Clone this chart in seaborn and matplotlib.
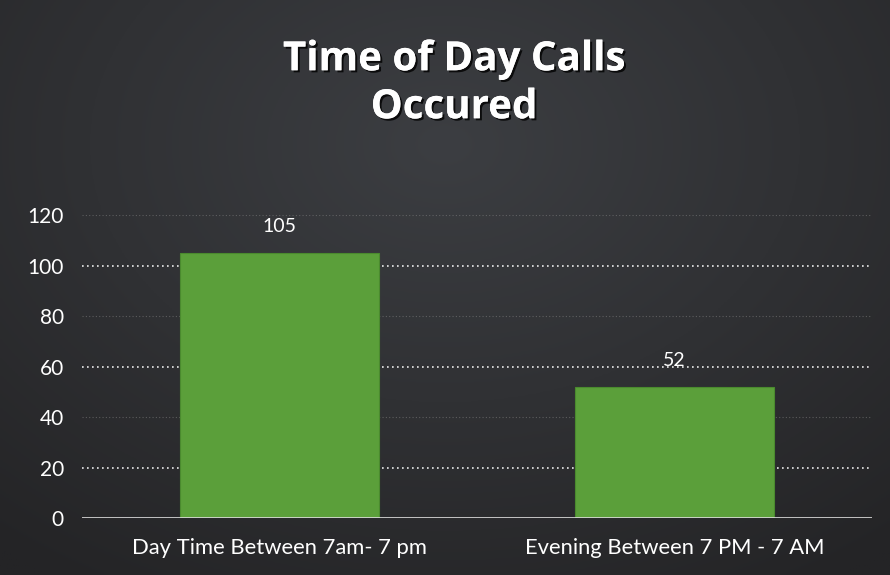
import pandas as pd
import numpy as np
import matplotlib.pyplot as plt
import matplotlib.patheffects as pe
import seaborn as sns

# data
categories = ['Day Time Between 7am- 7 pm', 'Evening Between 7 PM - 7 AM']
calls = [105, 52]
y_ticks = [0, 20, 40, 60, 80, 100, 120]

df = pd.DataFrame({'period': categories, 'calls': calls})

sns.set_style('dark')
plt.rcParams['font.family'] = ['Lato', 'DejaVu Sans']

bg = '#2d2e31'
fig = plt.figure(figsize=(8.9, 5.75), dpi=100, facecolor=bg)

# soft radial background glow, lighter near the top centre
bg_ax = fig.add_axes([0, 0, 1, 1], zorder=-10)
yy, xx = np.mgrid[0:1:200j, 0:1:300j]
r = np.sqrt(((xx - 0.5) / 0.8) ** 2 + ((yy - 0.25) / 0.9) ** 2)
shade = np.clip(1 - r, 0, 1)
c0 = np.array([0x24, 0x24, 0x26]) / 255
c1 = np.array([0x3c, 0x3e, 0x42]) / 255
img = c0 + (c1 - c0) * shade[..., None]
bg_ax.imshow(img, aspect='auto', extent=[0, 1, 0, 1], origin='upper')
bg_ax.axis('off')

ax = fig.add_axes([0.092, 0.099, 0.888, 0.527])
ax.patch.set_alpha(0)

sns.barplot(data=df, x='period', y='calls', color='#5b9f3a', width=0.505,
            edgecolor='#4a8a2e', linewidth=0.8, saturation=1, ax=ax, zorder=3)

# dotted gridlines (brighter ones at 20/60/100 like the scan)
for t in y_ticks[1:]:
    bright = t in (20, 60, 100)
    ax.axhline(t, color='white' if bright else '#8a8a8a', linestyle=(0, (1, 2)),
               linewidth=1.2 if bright else 0.8, alpha=0.9 if bright else 0.5, zorder=1)
ax.axhline(0, color='#dddddd', linewidth=1.2, zorder=4)

ax.set_ylim(0, 120)
ax.set_xlim(-0.5, 1.5)
ax.set_yticks(y_ticks)
ax.tick_params(axis='both', colors='white', labelsize=15, length=0)
ax.tick_params(axis='x', labelsize=15.8, pad=14)
ax.tick_params(axis='y', pad=13)
ax.set_xlabel('')
ax.set_ylabel('')
ax.grid(False)
for s in ax.spines.values():
    s.set_visible(False)

for i, v in enumerate(calls):
    ax.text(i, v + 7, str(v), ha='center', va='bottom', color='white', fontsize=14, zorder=5)

# title with a soft shadow
shadow = [pe.withSimplePatchShadow(offset=(1.5, -1.5), shadow_rgbFace='black', alpha=0.8),
          pe.Normal()]
fig.text(0.51, 0.93, 'Time of Day Calls\nOccured', ha='center', va='top',
         color='white', fontsize=29, fontweight='bold', linespacing=1.3,
         family=['Open Sans', 'DejaVu Sans'], path_effects=shadow)

fig.savefig('out.png', dpi=100, facecolor=bg)
